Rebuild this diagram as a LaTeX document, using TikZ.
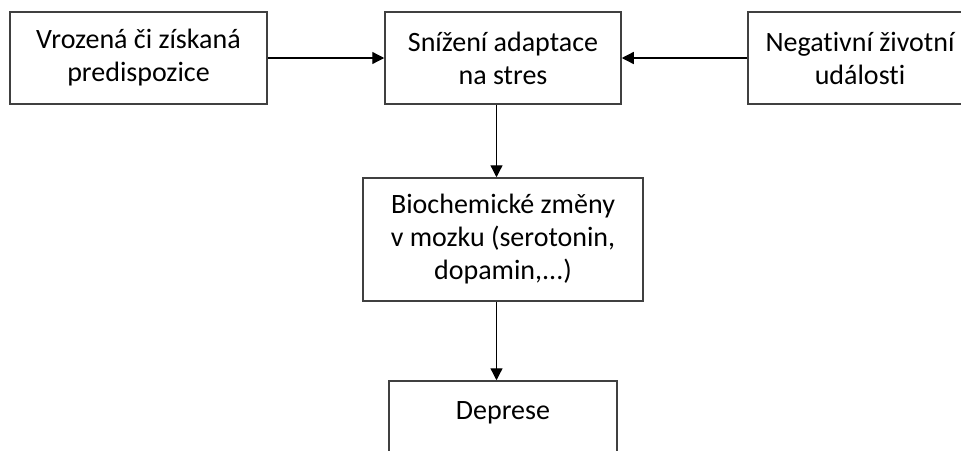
\documentclass[tikz,border=0pt]{standalone}
\usepackage{fontspec}
\setmainfont{Carlito}[Ligatures=NoCommon]
\usetikzlibrary{arrows.meta}

\tikzset{
    box/.style={draw=black!75, line width=1.5pt, inner sep=0pt, align=center,
        font=\fontsize{28}{33}\selectfont},
    flow/.style={line width=1.3pt, -{Triangle[length=12pt,width=12pt]}}
}

\begin{document}
\begin{tikzpicture}[x=1pt, y=-1pt]
    \useasboundingbox (0,0) rectangle (961,450);

    \node[box, minimum width=257pt, minimum height=92pt] (pred) at (138.5, 58) {Vrozená či získaná\\predispozice};
    \node[box, minimum width=236pt, minimum height=92pt] (adapt) at (503, 58) {Snížení adaptace\\na stres};
    \node[box, minimum width=224pt, minimum height=92pt] (udal) at (860, 58) {Negativní životní\\události};
    \node[box, minimum width=280pt, minimum height=123pt] (bio) at (503, 239.5) {Biochemické změny\\v mozku (serotonin,\\dopamin,...)};
    \node[box, minimum width=228pt, minimum height=92pt] (depr) at (503, 427) {Deprese\\~};

    \draw[flow] (pred) -- (adapt);
    \draw[flow] (udal) -- (adapt);
    \draw[flow] ([xshift=-6.5pt]adapt.south) -- ([xshift=-6.5pt]bio.north);
    \draw[flow] ([xshift=-6.5pt]bio.south) -- ([xshift=-6.5pt]depr.north);
\end{tikzpicture}
\end{document}
